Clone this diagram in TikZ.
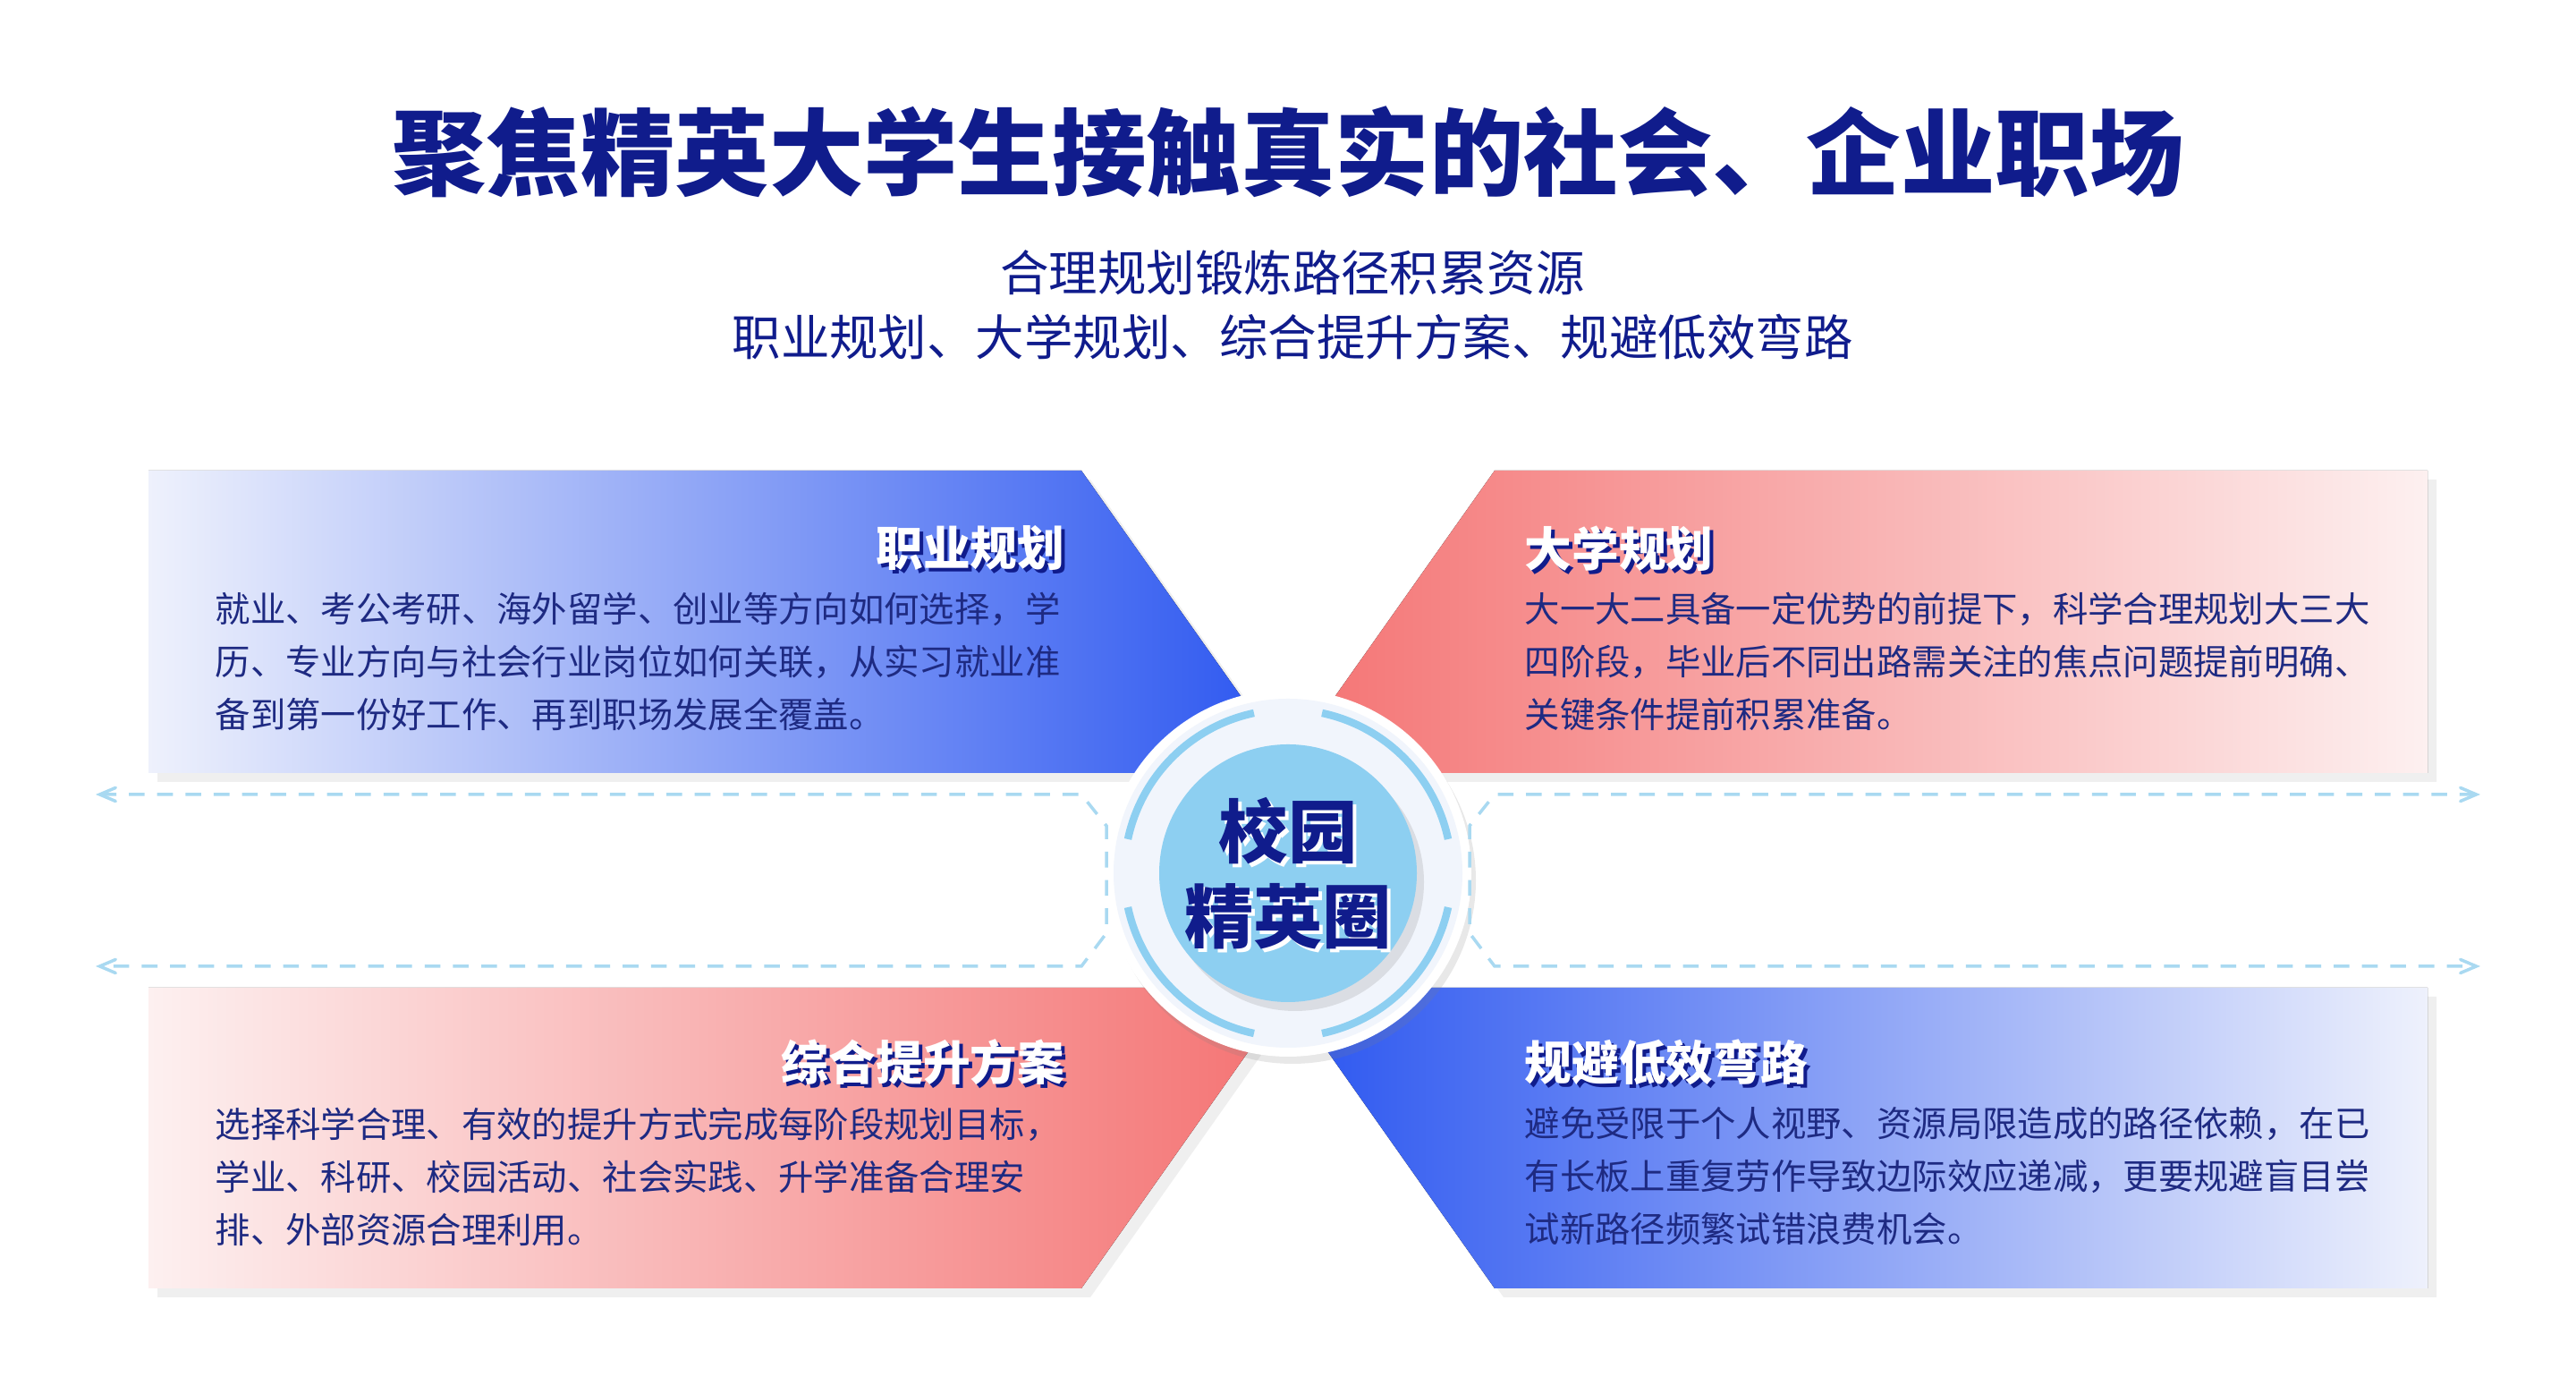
\documentclass[tikz,border=0pt]{standalone}
\usepackage{fontspec}
\setmainfont{Noto Sans CJK SC}
\usetikzlibrary{arrows,shadows,calc}
\definecolor{navy}{HTML}{101C8C}
\definecolor{ink}{HTML}{1E2A82}
\definecolor{deepblue}{HTML}{2A55F0}
\definecolor{paleblue}{HTML}{EEF1FC}
\definecolor{coral}{HTML}{F47272}
\definecolor{palered}{HTML}{FDF0F0}
\definecolor{sky}{HTML}{8DCFF1}
\definecolor{dashblue}{HTML}{A9D9F1}
\definecolor{mist}{HTML}{F1F5FC}

\begin{document}
\begin{tikzpicture}[
    body/.style={align=left, text=ink, font=\fontsize{11.2pt}{16.8pt}\selectfont, anchor=north west, inner sep=0pt},
    head/.style={font=\fontsize{15pt}{18pt}\selectfont\bfseries, inner sep=0pt},
    panel/.style={drop shadow={opacity=0.12, shadow xshift=0.1, shadow yshift=-0.1}},
    guide/.style={dashblue, dashed, line width=1pt, dash pattern=on 5pt off 4pt, angle 45-angle 45},
    ring/.style={sky, line width=2.4pt}
]
    \useasboundingbox (0,0) rectangle (28.8,15.48);
    \fill[white] (0,0) rectangle (28.8,15.48);

    % titles
    \node[text=navy, font=\fontsize{30pt}{34pt}\selectfont\bfseries] (title) at (14.4,13.78) {聚焦精英大学生接触真实的社会、企业职场};
    \node[text=navy, font=\fontsize{15.5pt}{18pt}\selectfont] (sub1) at (14.45,12.43) {合理规划锻炼路径积累资源};
    \node[text=navy, font=\fontsize{15.5pt}{18pt}\selectfont] (sub2) at (14.45,11.71) {职业规划、大学规划、综合提升方案、规避低效弯路};

    % panels
    \fill[panel, left color=paleblue, right color=deepblue] (1.66,10.22) -- (12.09,10.22) -- (14.48,6.84) -- (1.66,6.84) -- cycle;
    \fill[panel, left color=coral, right color=palered] (27.14,10.22) -- (16.71,10.22) -- (14.32,6.84) -- (27.14,6.84) -- cycle;
    \fill[panel, left color=palered, right color=coral] (1.66,4.44) -- (14.46,4.44) -- (12.09,1.08) -- (1.66,1.08) -- cycle;
    \fill[panel, left color=deepblue, right color=paleblue] (27.14,4.44) -- (14.34,4.44) -- (16.71,1.08) -- (27.14,1.08) -- cycle;

    % centre disc
    \coordinate (hub) at (14.4,5.72);
    \fill[white, drop shadow={opacity=0.18, shadow xshift=0.05, shadow yshift=-0.08}] (hub) circle (2.05);
    \fill[mist] (hub) circle (1.95);
    \foreach \a in {0,90,180,270}
        \draw[ring] ($(hub)+(\a+12:1.83)$) arc (\a+12:\a+78:1.83);
    \fill[sky, drop shadow={opacity=0.2, shadow xshift=0.08, shadow yshift=-0.1}] (hub) circle (1.44);

    % guides
    \coordinate (gl1) at (1.07,6.60);
    \coordinate (gl2) at (1.07,4.68);
    \coordinate (gr1) at (27.73,6.60);
    \coordinate (gr2) at (27.73,4.68);
    \draw[guide] (gl1) -- (12.09,6.60) -- (12.37,6.25) -- (12.37,5.05) -- (12.09,4.68) -- (gl2);
    \draw[guide] (gr1) -- (16.71,6.60) -- (16.43,6.25) -- (16.43,5.05) -- (16.71,4.68) -- (gr2);

    % centre label
    \node[text=white, align=center, font=\fontsize{22pt}{27pt}\selectfont\bfseries] at ($(hub)+(0.04,-0.04)$) {校园\\精英圈};
    \node[text=navy, align=center, font=\fontsize{22pt}{27pt}\selectfont\bfseries] (hubtext) at (hub) {校园\\精英圈};

    % headings
    \foreach \x/\y/\side/\txt/\n in {11.91/9.35/east/职业规划/h1, 17.04/9.35/west/大学规划/h2, 11.91/3.61/east/综合提升方案/h3, 17.04/3.61/west/规避低效弯路/h4} {
        \node[head, text=navy, anchor=\side] at (\x+0.04,\y-0.04) {\txt};
        \node[head, text=white, anchor=\side] (\n) at (\x,\y) {\txt};
    }

    % bodies
    \node[body] (b1) at (2.40,8.87) {就业、考公考研、海外留学、创业等方向如何选择，学\\历、专业方向与社会行业岗位如何关联，从实习就业准\\备到第一份好工作、再到职场发展全覆盖。};
    \node[body] (b2) at (17.04,8.87) {大一大二具备一定优势的前提下，科学合理规划大三大\\四阶段，毕业后不同出路需关注的焦点问题提前明确、\\关键条件提前积累准备。};
    \node[body] (b3) at (2.40,3.11) {选择科学合理、有效的提升方式完成每阶段规划目标，\\学业、科研、校园活动、社会实践、升学准备合理安\\排、外部资源合理利用。};
    \node[body] (b4) at (17.04,3.11) {避免受限于个人视野、资源局限造成的路径依赖，在已\\有长板上重复劳作导致边际效应递减，更要规避盲目尝\\试新路径频繁试错浪费机会。};
\end{tikzpicture}
\end{document}
